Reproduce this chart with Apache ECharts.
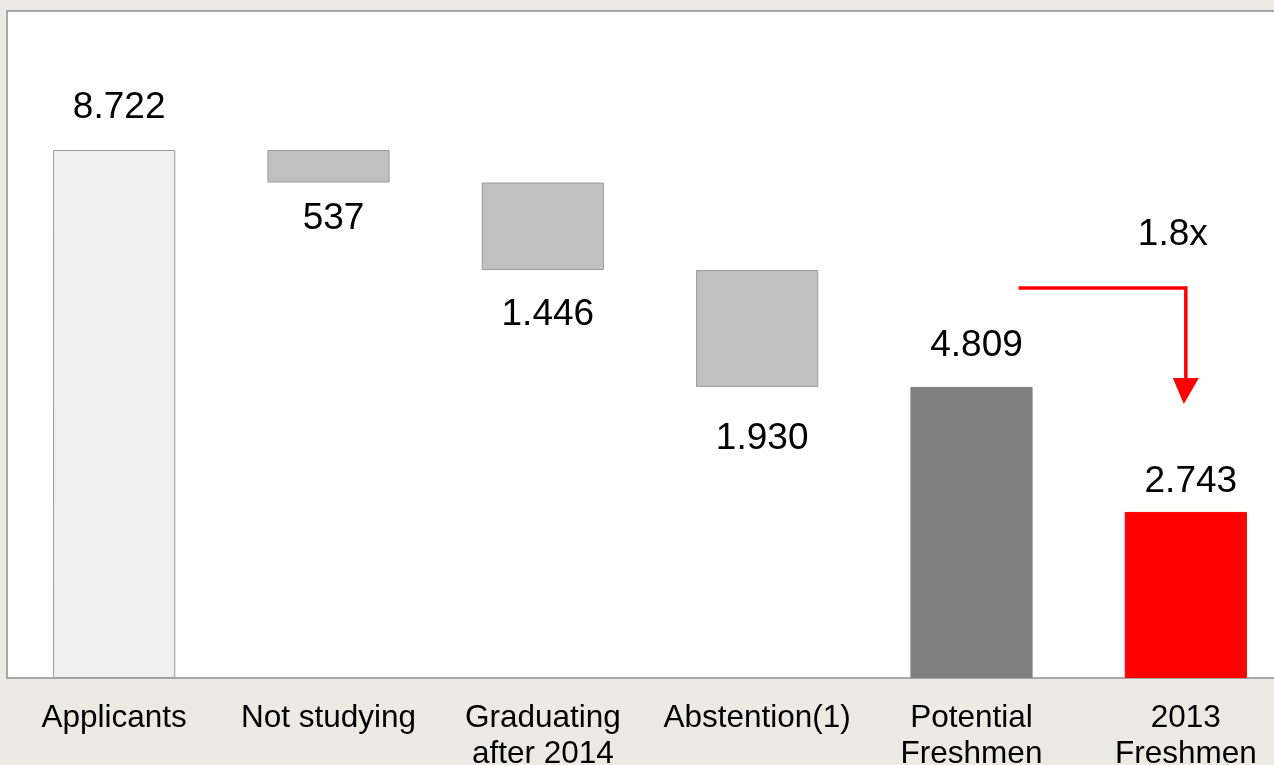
<!DOCTYPE html>
<html>
<head>
<meta charset="utf-8">
<script src="https://cdn.jsdelivr.net/npm/echarts@6/dist/echarts.min.js"></script>
<style>
html,body{margin:0;padding:0;background:#ebeae4;}
#c{width:1274px;height:765px;}
</style>
</head>
<body>
<div id="c"></div>
<script>
var categories = ['Applicants', 'Not studying', 'Graduating\nafter 2014', 'Abstention(1)', 'Potential\nFreshmen', '2013\nFreshmen'];
var values = [8722, 537, 1446, 1930, 4809, 2743];
var valueLabels = ['8.722', '537', '1.446', '1.930', '4.809', '2.743'];
var kinds = ['total', 'drop', 'drop', 'drop', 'total', 'total'];
var ratioLabel = '1.8x';

// derive the invisible base of the waterfall from the values
var bases = [];
var running = 0;
for (var i = 0; i < values.length; i++) {
  if (kinds[i] === 'total') { bases.push(0); running = values[i]; }
  else { running -= values[i]; bases.push(running); }
}

var fills = ['#f0f0f0', '#c0c0c0', '#c0c0c0', '#c0c0c0', '#808080', '#ff0000'];
var borders = ['#9a9a9a', '#9a9a9a', '#9a9a9a', '#9a9a9a', '#808080', '#ff0000'];
var labelPos = ['top', 'bottom', 'bottom', 'bottom', 'top', 'top'];
var labelDist = [24, 18, 26, 33, 23, 12];

var chart = echarts.init(document.getElementById('c'), null, {renderer: 'canvas'});
var font = 'Liberation Sans, Arial, sans-serif';

var visData = values.map(function (v, i) {
  return {
    value: v,
    itemStyle: {color: fills[i], borderColor: borders[i], borderWidth: 1},
    label: {
      show: true,
      position: labelPos[i],
      distance: labelDist[i],
      offset: [5, 0],
      formatter: valueLabels[i],
      color: '#000',
      fontSize: 37,
      fontFamily: font
    }
  };
});

chart.setOption({
  backgroundColor: '#ebeae4',
  animation: false,
  grid: {
    left: 7, top: 11, right: -19, bottom: 87,
    outerBoundsMode: 'none',
    containLabel: false,
    show: true, backgroundColor: '#ffffff', borderColor: '#8f8f8f', borderWidth: 1.5
  },
  xAxis: {
    type: 'category',
    data: categories,
    axisLine: {show: false},
    axisTick: {show: false},
    axisLabel: {
      color: '#000', fontSize: 31.5, fontFamily: font, margin: 22,
      lineHeight: 36, interval: 0
    }
  },
  yAxis: {
    type: 'value', min: 0, max: 11018,
    show: false, splitLine: {show: false}
  },
  series: [
    {
      type: 'bar', stack: 'w', data: bases,
      itemStyle: {color: 'transparent', borderColor: 'transparent'},
      emphasis: {disabled: true}, silent: true,
      barCategoryGap: '43%'
    },
    {
      type: 'bar', stack: 'w', data: visData,
      barCategoryGap: '43%'
    }
  ]
});

// annotation arrow (ratio between the last two totals), positioned via the axes
var arrowLevel = 6442;
var arrowTip = 4526;
var ratioLevel = 7320;
var p4 = chart.convertToPixel({gridIndex: 0}, [4, arrowLevel]);
var p5 = chart.convertToPixel({gridIndex: 0}, [5, arrowLevel]);
var tip = chart.convertToPixel({gridIndex: 0}, [5, arrowTip]);
var rl = chart.convertToPixel({gridIndex: 0}, [5, ratioLevel]);
var sx = p4[0] + 47;
var cx = p5[0];
chart.setOption({
  graphic: [
    {
      type: 'polyline',
      shape: {points: [[sx, p4[1]], [cx, p4[1]], [cx, tip[1] - 22]]},
      style: {stroke: '#ff0000', lineWidth: 3.5, fill: null}
    },
    {
      type: 'polygon',
      shape: {points: [[cx - 13, tip[1] - 26], [cx + 13, tip[1] - 26], [cx - 2, tip[1]]]},
      style: {fill: '#ff0000'}
    },
    {
      type: 'text',
      x: rl[0] - 13, y: rl[1],
      style: {text: ratioLabel, fill: '#000', fontSize: 37, fontFamily: font, align: 'center', verticalAlign: 'middle'}
    }
  ]
});
</script>
</body>
</html>
